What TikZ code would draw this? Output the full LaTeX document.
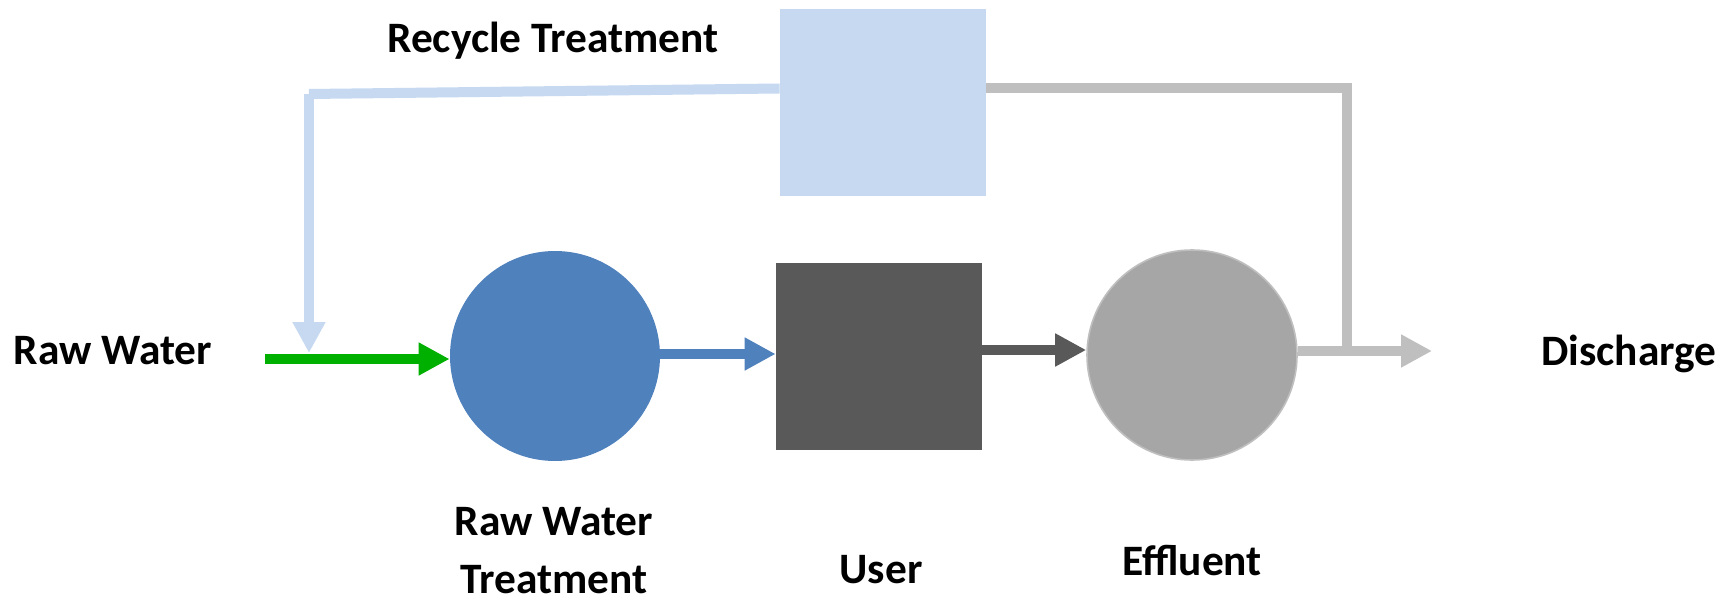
\documentclass[tikz,border=0pt]{standalone}
\usepackage{fontspec}
\setmainfont{Carlito}
\usetikzlibrary{arrows.meta}

\definecolor{recfill}{RGB}{198,217,241}
\definecolor{rtblue}{RGB}{79,129,189}
\definecolor{userfill}{RGB}{89,89,89}
\definecolor{efffill}{RGB}{166,166,166}
\definecolor{effline}{RGB}{191,191,191}
\definecolor{rawgreen}{RGB}{0,176,0}

\tikzset{
  lbl/.style={font=\fontsize{21.7pt}{29pt}\selectfont\bfseries, inner sep=0pt, align=center},
  unitbox/.style={rectangle, minimum width=103pt, minimum height=93.5pt, inner sep=0pt},
  unitcirc/.style={circle, minimum size=105pt, inner sep=0pt},
  flow/.style={line width=5pt, -{Triangle[length=15.5pt,width=15.5pt]}},
  pipe/.style={line width=5pt}
}

\begin{document}
\begin{tikzpicture}[x=0.5pt, y=-0.5pt]
  \useasboundingbox[fill=white] (0,0) rectangle (1733,604);

  % process units
  \node[unitbox, fill=recfill] (rec) at (883,102.5) {};
  \node[unitcirc, fill=rtblue] (rt) at (555,356) {};
  \node[unitbox, fill=userfill] (user) at (879,356.5) {};
  \node[unitcirc, fill=efffill, draw=effline, line width=0.8pt] (eff) at (1192,355) {};

  % labels
  \node[lbl] (lrec) at (553,41) {Recycle Treatment};
  \node[lbl] (lraw) at (113,351) {Raw Water};
  \node[lbl] (lrt) at (554,551) {Raw Water\\Treatment};
  \node[lbl] (luser) at (881,570) {User};
  \node[lbl] (leff) at (1192,561) {Effluent};
  \node[lbl] (ldis) at (1629,354) {Discharge};

  % auxiliary points on the flow lines
  \coordinate (gstart) at (265,359);
  \coordinate (bline) at (700,354);
  \coordinate (dline) at (1030,350);
  \coordinate (fbcorner) at (309,94);
  \coordinate (fbtip) at (309,353);
  \coordinate (gend) at (1432,351);
  \coordinate (junction) at (1346.5,351);

  % recycle return to the raw water line
  \draw[pipe, recfill, line join=miter] ([yshift=7pt]rec.west) -- (fbcorner) -- (fbtip |- fbcorner);
  \draw[flow, recfill] (fbcorner) -- (fbtip);

  % treated effluent branch up to recycle treatment
  \draw[pipe, effline, line join=miter] ([yshift=7pt]rec.east) -| (junction);

  % main flow
  \draw[flow, rawgreen] (gstart) -- (gstart -| rt.west);
  \draw[flow, rtblue] (rt.east |- bline) -- (user.west |- bline);
  \draw[flow, userfill] (user.east |- dline) -- (eff.west |- dline);
  \draw[flow, effline] (eff.east |- gend) -- (gend);
\end{tikzpicture}
\end{document}
